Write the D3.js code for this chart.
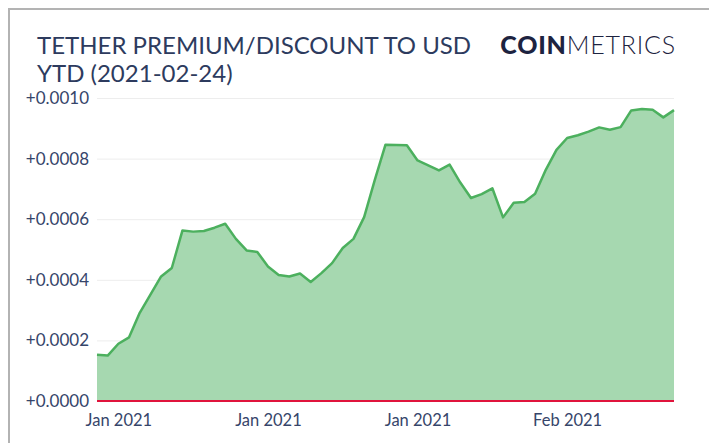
<!DOCTYPE html>
<html>
<head>
<meta charset="utf-8">
<script src="https://cdn.jsdelivr.net/npm/d3@7"></script>
<style>
  body { margin: 0; background: #fff; }
  svg { display: block; font-family: Lato, "Noto Sans", sans-serif; }
</style>
</head>
<body>
<script>
// daily premium / discount of tether vs usd, 2021-01-01 .. 2021-02-24
const startDate = new Date(2021, 0, 1);
const endDate = new Date(2021, 1, 25);
const premium = [
  0.000153, 0.000150, 0.000189, 0.000210, 0.000291, 0.000351, 0.000411, 0.000439,
  0.000563, 0.000559, 0.000561, 0.000572, 0.000585, 0.000535, 0.000497, 0.000492,
  0.000444, 0.000416, 0.000411, 0.000421, 0.000393, 0.000422, 0.000455, 0.000505,
  0.000535, 0.000607, 0.000730, 0.000846, 0.000845, 0.000844, 0.000794, 0.000778,
  0.000761, 0.000780, 0.000721, 0.000670, 0.000683, 0.000702, 0.000606, 0.000654,
  0.000657, 0.000684, 0.000763, 0.000829, 0.000868, 0.000877, 0.000889, 0.000903,
  0.000895, 0.000904, 0.000959, 0.000964, 0.000961, 0.000936, 0.000960
];
const yTicks = [0, 0.0002, 0.0004, 0.0006, 0.0008, 0.0010];
const xTickDates = [new Date(2021, 0, 3), new Date(2021, 0, 17), new Date(2021, 0, 31), new Date(2021, 1, 14)];

const dates = d3.timeDay.range(startDate, endDate);
const data = dates.map((d, i) => ({date: d, value: premium[i]}));

const width = 709;
const height = 443;
const margin = {top: 98, right: 35, bottom: 42, left: 97};

const svg = d3.select("body").append("svg")
  .attr("width", width)
  .attr("height", height);

// card border (top + left)
svg.append("path")
  .attr("d", `M9,${height}V9H${width}`)
  .attr("fill", "none")
  .attr("stroke", "#b3b3b3")
  .attr("stroke-width", 2);

const x = d3.scaleTime()
  .domain(d3.extent(data, d => d.date))
  .range([margin.left, width - margin.right]);

const y = d3.scaleLinear()
  .domain([0, 0.0010])
  .range([height - margin.bottom, margin.top]);

// grid + y labels
const yAxis = g => g
  .attr("transform", `translate(${margin.left},0)`)
  .call(d3.axisLeft(y).tickValues(yTicks).tickFormat(d3.format("+.4f"))
    .tickSize(-(width - margin.left - margin.right)).tickPadding(8))
  .call(g => g.select(".domain").remove())
  .call(g => g.selectAll(".tick line").attr("stroke", "#ededed"))
  .call(g => g.selectAll(".tick text")
    .attr("fill", "#36456a").attr("font-size", 17).attr("font-family", "Lato"));
svg.append("g").call(yAxis);

const area = d3.area()
  .x(d => x(d.date))
  .y0(y(0))
  .y1(d => y(d.value));

const line = d3.line()
  .x(d => x(d.date))
  .y(d => y(d.value));

svg.append("path")
  .datum(data)
  .attr("fill", "#a6d8b0")
  .attr("d", area);

svg.append("path")
  .datum(data)
  .attr("fill", "none")
  .attr("stroke", "#4cb05e")
  .attr("stroke-width", 2.5)
  .attr("stroke-linejoin", "round")
  .attr("d", line);

// zero line
svg.append("line")
  .attr("x1", margin.left).attr("x2", width - margin.right)
  .attr("y1", y(0)).attr("y2", y(0))
  .attr("stroke", "#e0143c")
  .attr("stroke-width", 2);

const xAxis = g => g
  .attr("transform", `translate(0,${height - margin.bottom})`)
  .call(d3.axisBottom(x).tickValues(xTickDates).tickFormat(d3.timeFormat("%b %Y"))
    .tickSize(0).tickPadding(13))
  .call(g => g.select(".domain").remove())
  .call(g => g.selectAll(".tick text")
    .attr("fill", "#36456a").attr("font-size", 16.5).attr("font-family", "Lato"));
svg.append("g").call(xAxis);

// title
const title = svg.append("text")
  .attr("fill", "#2d3b5e")
  .attr("font-size", 24)
  .attr("font-family", "Lato");
title.append("tspan").attr("x", 37).attr("y", 54).text("TETHER PREMIUM/DISCOUNT TO USD");
title.append("tspan").attr("x", 37).attr("y", 82).text("YTD (2021-02-24)");

// logo
const logo = svg.append("text")
  .attr("x", 676).attr("y", 54)
  .attr("text-anchor", "end")
  .attr("fill", "#1d2340")
  .attr("font-size", 25)
  .attr("letter-spacing", 0.8)
  .attr("font-family", "Lato");
logo.append("tspan").attr("font-weight", 900).text("COIN");
logo.append("tspan").attr("font-weight", 300).text("METRICS");
</script>
</body>
</html>
